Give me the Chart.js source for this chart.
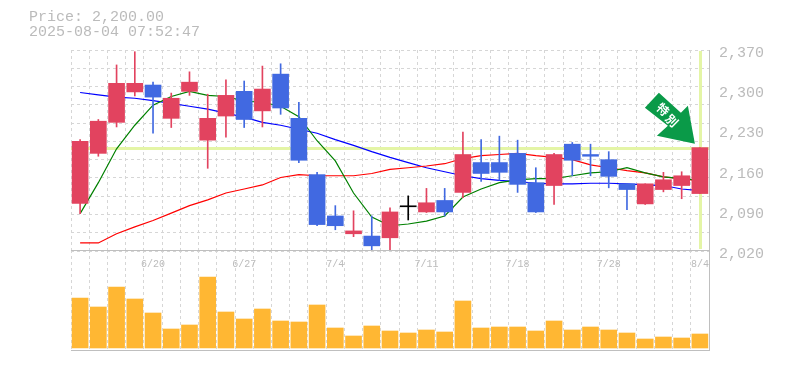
<!DOCTYPE html>
<html>
<head>
<meta charset="utf-8">
<script src="https://cdn.jsdelivr.net/npm/chart.js@4"></script>
<style>
  html, body { margin: 0; padding: 0; background: #fff; }
  #wrap { position: relative; width: 785px; height: 370px; overflow: hidden; }
  canvas { position: absolute; left: 0; }
  #priceChart { top: 0; }
  #volChart { top: 240px; }
  #head { position: absolute; left: 29px; top: 11px; font: 15px/14.5px "Liberation Mono", monospace; color: #bbb; white-space: pre; z-index: 2; }
</style>
</head>
<body>
<div id="wrap">
  <canvas id="priceChart" width="785" height="270"></canvas>
  <canvas id="volChart" width="785" height="130"></canvas>
  <div id="head">Price: 2,200.00
2025-08-04 07:52:47</div>
</div>
<script>
// categories
const dates = ['6/16','6/17','6/18','6/19','6/20','6/23','6/24','6/25','6/26','6/27',
  '6/30','7/1','7/2','7/3','7/4','7/7','7/8','7/9','7/10','7/11',
  '7/14','7/15','7/16','7/17','7/18','7/22','7/23','7/24','7/25','7/28',
  '7/29','7/30','7/31','8/1','8/4'];

// candles
const opens  = [2103,2190,2244,2297,2309,2251,2298,2213,2255,2298,2264,2328,2251,2153,2081,2050,2046,2043,2097,2088,2108,2122,2174,2174,2190,2139,2134,2206,2188,2179,2137,2102,2127,2134,2120];
const highs  = [2214,2249,2344,2367,2314,2295,2332,2293,2318,2316,2342,2346,2279,2157,2099,2090,2081,2095,2116,2129,2129,2227,2214,2220,2213,2165,2190,2209,2206,2193,2137,2137,2157,2158,2200];
const lows   = [2085,2185,2236,2290,2225,2235,2291,2164,2218,2235,2236,2258,2174,2064,2057,2045,2020,2022,2074,2087,2081,2113,2141,2143,2122,2087,2101,2151,2151,2130,2092,2101,2123,2111,2120];
const closes = [2211,2246,2312,2312,2288,2286,2314,2251,2291,2249,2302,2269,2178,2066,2064,2055,2029,2088,2097,2104,2088,2188,2155,2157,2136,2088,2188,2178,2185,2150,2127,2137,2144,2151,2200];

// moving averages
const maShort = [2085,2139,2198,2239,2274,2289,2298,2291,2289,2281,2279,2272,2254,2212,2177,2121,2079,2064,2067,2072,2081,2114,2128,2139,2144,2146,2146,2151,2156,2158,2165,2156,2149,2146,2143];
const maMid   = [2034,2034,2050,2062,2073,2086,2099,2109,2121,2128,2135,2148,2153,2151,2151,2151,2155,2162,2165,2168,2172,2181,2186,2188,2190,2186,2183,2179,2170,2165,2160,2156,2149,2146,2142];
const maLong  = [2296,2292,2288,2286,2282,2277,2272,2267,2260,2253,2244,2239,2232,2225,2214,2204,2193,2183,2174,2165,2158,2151,2146,2143,2141,2138,2137,2137,2138,2138,2137,2135,2134,2128,2125];

// volume
const volumes = [50,41,61,49,35,19,23,71,36,29,39,27,26,43,20,12,22,17,15,18,16,47,20,21,21,17,27,18,21,18,15,9,11,10,14];

// axis
const priceMin = 2020, priceMax = 2370, priceStep = 70;
const gridRows = 11;
const lastPrice = 2200;
const arrowText = ['特', '別'];

const RED = '#e2435f', BLUE = '#4169e1', BLACK = '#000000';
const LIME = '#e4f5a6', ARROW = '#0a9a48';
const GRID = '#d6d6d6', EDGE = '#bfbfbf', TEXT = '#bbbbbb';
const MONO = 'Liberation Mono';

function candleColor(i) {
  if (opens[i] === closes[i]) return BLACK;
  return closes[i] > opens[i] ? RED : BLUE;
}
const candleColors = dates.map((d, i) => candleColor(i));

function fixWidth(w)  { return scale => { scale.width = w; }; }
function fixHeight(h) { return scale => { scale.height = h; }; }

// lime price / time guide, sits behind everything
const guides = {
  id: 'guides',
  beforeDatasetsDraw(chart) {
    const { ctx, chartArea: a, scales } = chart;
    const y = scales.y.getPixelForValue(lastPrice);
    const x = scales.x.getPixelForValue(dates.length - 1);
    ctx.save();
    ctx.fillStyle = LIME;
    ctx.fillRect(a.left, Math.round(y) - 1, a.right - a.left, 3);
    ctx.fillRect(Math.round(x) - 1, a.top + 1, 3, a.bottom - a.top - 3);
    ctx.restore();
  }
};

// green arrow pointing at the last candle, offsets are from its top
const arrowMark = {
  id: 'arrowMark',
  afterDraw(chart) {
    const { ctx, scales } = chart;
    const ax = scales.x.getPixelForValue(dates.length - 1);
    const ay = scales.y.getPixelForValue(lastPrice);
    const outline = [[-41,-55],[-55,-40],[-32,-22],[-43,-12],[-5,-4],[-12,-42],[-19,-35]];
    ctx.save();
    ctx.fillStyle = ARROW;
    ctx.beginPath();
    outline.forEach((p, i) => {
      if (i === 0) ctx.moveTo(ax + p[0], ay + p[1]);
      else ctx.lineTo(ax + p[0], ay + p[1]);
    });
    ctx.closePath();
    ctx.fill();
    ctx.fillStyle = '#ffffff';
    ctx.font = 'bold 12px "Noto Sans CJK JP"';
    ctx.textAlign = 'center';
    ctx.textBaseline = 'middle';
    [[-37,-38],[-28,-27]].forEach((p, i) => {
      ctx.save();
      ctx.translate(ax + p[0], ay + p[1]);
      ctx.rotate(Math.PI / 4);
      ctx.fillText(arrowText[i], 0, 0);
      ctx.restore();
    });
    ctx.restore();
  }
};

function maLine(values, color, order) {
  return { type: 'line', data: values, borderColor: color, borderWidth: 1.2, pointRadius: 0, tension: 0, order: order, yAxisID: 'y' };
}

new Chart(document.getElementById('priceChart'), {
  data: {
    labels: dates,
    datasets: [
      { type: 'bar', data: dates.map((d, i) => [Math.min(opens[i], closes[i]), Math.max(opens[i], closes[i])]),
        backgroundColor: candleColors, barThickness: 16, minBarLength: 1, grouped: false, order: 1, yAxisID: 'y' },
      { type: 'bar', data: dates.map((d, i) => [lows[i], highs[i]]),
        backgroundColor: candleColors, barThickness: 1, grouped: false, order: 2, yAxisID: 'y' },
      maLine(maShort, '#008000', 3),
      maLine(maMid, '#ff0000', 4),
      maLine(maLong, '#0000ff', 5)
    ]
  },
  options: {
    responsive: false,
    animation: false,
    layout: { padding: { left: 71, top: 50, right: 0, bottom: 4 } },
    plugins: { legend: { display: false }, tooltip: { enabled: false } },
    scales: {
      x: {
        offset: true,
        grid: { offset: true, color: GRID, drawTicks: false },
        border: { display: false, dash: [3, 3] },
        ticks: { display: false },
        afterFit: fixHeight(0)
      },
      y: {
        position: 'right',
        min: priceMin,
        max: priceMax,
        afterFit: fixWidth(76),
        grid: { display: false, drawTicks: false },
        border: { display: true, color: EDGE },
        ticks: {
          stepSize: priceStep,
          padding: 10,
          labelOffset: 3,
          color: TEXT,
          font: { family: MONO, size: 15 },
          callback: v => v.toLocaleString('en-US')
        }
      },
      yGrid: {
        position: 'left',
        min: 0,
        max: gridRows,
        afterFit: fixWidth(0),
        grid: { color: GRID, drawTicks: false },
        border: { display: false, dash: [3, 3] },
        ticks: { display: false, stepSize: 1 }
      }
    }
  },
  plugins: [guides, arrowMark]
});

new Chart(document.getElementById('volChart'), {
  data: {
    labels: dates,
    datasets: [
      { type: 'bar', data: volumes, backgroundColor: '#ffb733', barThickness: 16 }
    ]
  },
  options: {
    responsive: false,
    animation: false,
    layout: { padding: { left: 71, top: 10, right: 0, bottom: 20 } },
    plugins: { legend: { display: false }, tooltip: { enabled: false } },
    scales: {
      x: {
        position: 'top',
        offset: true,
        afterFit: fixHeight(0),
        grid: { offset: true, color: GRID, drawTicks: false },
        border: { display: false, dash: [3, 3] },
        ticks: {
          autoSkip: false,
          maxRotation: 0,
          mirror: true,
          padding: 8,
          color: TEXT,
          font: { family: MONO, size: 10 },
          callback: function (v, i) { return i % 5 === 4 ? dates[i] : ''; }
        }
      },
      y: {
        position: 'right',
        min: -2,
        max: 98,
        afterFit: fixWidth(76),
        afterBuildTicks: scale => { scale.ticks = [{ value: -2 }, { value: 98 }]; },
        grid: { color: EDGE, drawTicks: false },
        border: { display: true, color: EDGE },
        ticks: { display: false }
      }
    }
  }
});
</script>
</body>
</html>
